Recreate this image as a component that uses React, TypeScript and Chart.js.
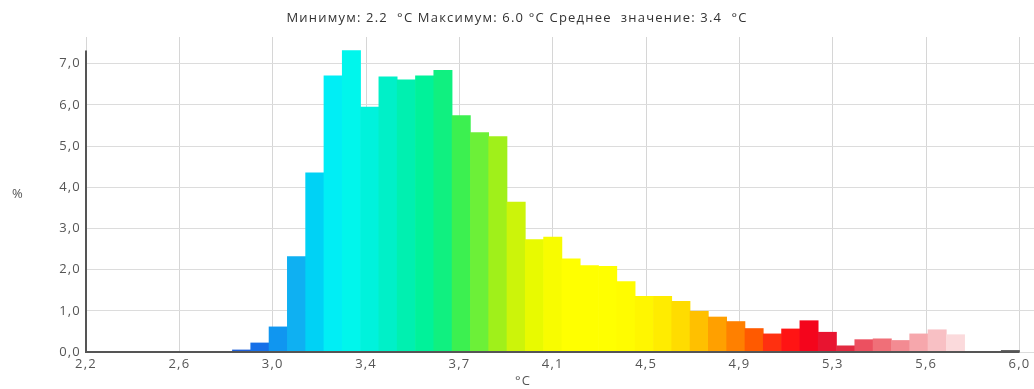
import { useEffect, useRef } from 'react';
import { Chart, registerables } from 'chart.js';

Chart.register(...registerables);

// Histogram bins (51 equal bins spanning 2.2 … 6.0 °C), values in %
const binValues = [
  0, 0, 0, 0, 0, 0, 0, 0, 0.05, 0.22, 0.61, 2.32, 4.35, 6.71, 7.32, 5.95, 6.68,
  6.61, 6.71, 6.84, 5.74, 5.33, 5.23, 3.64, 2.73, 2.79, 2.26, 2.1, 2.08, 1.71,
  1.35, 1.35, 1.23, 0.99, 0.85, 0.74, 0.57, 0.44, 0.56, 0.76, 0.48, 0.15, 0.3,
  0.32, 0.28, 0.44, 0.54, 0.42, 0, 0, 0.04,
];

const binColors = [
  '#1f5fd8', '#1f5fd8', '#1f5fd8', '#1f5fd8', '#1f5fd8', '#1f5fd8', '#1f5fd8', '#1f5fd8',
  '#1f5fd8', '#1670e8', '#1096f0', '#0fb0f2', '#00d2f5', '#00eef5', '#00f6ec', '#00f2dc',
  '#00f0c8', '#00f0b0', '#00f29a', '#10f080', '#3cf050', '#6cf038', '#a0f01a', '#ccf40a',
  '#e8fa00', '#f8fc00', '#ffff00', '#ffff00', '#ffff00', '#fffc00', '#fff600', '#ffec00',
  '#ffdc00', '#ffc000', '#ffa000', '#ff8000', '#ff5a00', '#ff3010', '#ff1414', '#f4051c',
  '#e81430', '#e22a40', '#ec5060', '#f06f78', '#f38b92', '#f6a7ac', '#f8c0c4', '#fbdadc',
  '#ffffff', '#ffffff', '#666666',
];

const xTickLabels = ['2,2', '2,6', '3,0', '3,4', '3,7', '4,1', '4,5', '4,9', '5,3', '5,6', '6,0'];

const titleText = 'Минимум: 2.2  °C Максимум: 6.0 °C Среднее  значение: 3.4  °C';
const yTitle = '%';
const xTitle = '°C';

const FONT = '"Open Sans", "Noto Sans", sans-serif';
// plot extends a little beyond the last bin / last grid line
const RIGHT_EXTRA = 1.0155;

export default function App() {
  const ref = useRef<HTMLCanvasElement>(null);

  useEffect(() => {
    const nBins = binValues.length;
    const nGrid = xTickLabels.length - 1;
    const axisPlugin = {
      id: 'axisDecor',
      beforeDraw(chart: any) {
        chart.ctx.letterSpacing = '1.2px';
      },
      afterDatasetsDraw(chart: any) {
        const { ctx, chartArea, scales } = chart;
        const y = scales.y;
        const x2 = scales.x2;
        const yTop = y.getPixelForValue(Math.max(...binValues));
        const xEnd = x2.getPixelForValue(nGrid);
        ctx.save();
        ctx.strokeStyle = '#555';
        ctx.lineWidth = 2;
        ctx.beginPath();
        ctx.moveTo(chartArea.left, yTop);
        ctx.lineTo(chartArea.left, chartArea.bottom);
        ctx.lineTo(xEnd, chartArea.bottom);
        ctx.stroke();
        ctx.fillStyle = '#555';
        ctx.font = `13px ${FONT}`;
        ctx.textAlign = 'center';
        ctx.textBaseline = 'middle';
        ctx.fillText(yTitle, 18, (chartArea.top + chartArea.bottom) / 2);
        ctx.fillText(xTitle, chart.width / 2 + 6, chart.height - 8);
        ctx.restore();
      },
      afterDraw(chart: any) {
        chart.ctx.letterSpacing = '0px';
      },
    };

    const chart = new Chart(ref.current!, {
      type: 'bar',
      data: {
        datasets: [
          {
            data: binValues.map((v, i) => ({ x: i, y: v })),
            backgroundColor: binColors,
            borderWidth: 0,
            barPercentage: 1,
            categoryPercentage: 1,
          },
        ],
      },
      options: {
        animation: false,
        responsive: true,
        maintainAspectRatio: false,
        layout: { padding: 0 },
        plugins: {
          legend: { display: false },
          tooltip: { enabled: false },
          title: {
            display: true,
            text: titleText,
            color: '#333',
            font: { family: FONT, size: 13, weight: 'normal' },
            padding: { top: 10, bottom: 11.4 },
          },
        },
        scales: {
          x: {
            type: 'linear',
            display: false,
            offset: false,
            min: -0.5,
            max: -0.5 + nBins * RIGHT_EXTRA,
          },
          x2: {
            type: 'linear',
            position: 'bottom',
            offset: false,
            min: 0,
            max: nGrid * RIGHT_EXTRA,
            border: { display: false },
            grid: { color: '#d6d6d6', lineWidth: 1, drawTicks: false, offset: false },
            ticks: {
              stepSize: 1,
              includeBounds: false,
              autoSkip: false,
              maxRotation: 0,
              padding: 4,
              color: '#555',
              font: { family: FONT, size: 13 },
              callback: (v: any) => xTickLabels[v] ?? '',
            },
            afterFit: (s: any) => {
              s.height = 37;
            },
          },
          y: {
            min: 0,
            max: 7.65,
            border: { display: false },
            grid: { color: '#dcdcdc', lineWidth: 1, drawTicks: false },
            ticks: {
              stepSize: 1,
              includeBounds: false,
              padding: 5,
              color: '#555',
              font: { family: FONT, size: 13 },
              callback: (v: any) => Number(v).toFixed(1).replace('.', ','),
            },
            afterFit: (s: any) => {
              s.width = 86;
            },
          },
        },
      },
      plugins: [axisPlugin],
    });
    return () => chart.destroy();
  }, []);

  return (
    <div style={{ position: 'fixed', left: 0, top: 0, width: 1034, height: 389, background: '#fff' }}>
      <canvas ref={ref} />
    </div>
  );
}
